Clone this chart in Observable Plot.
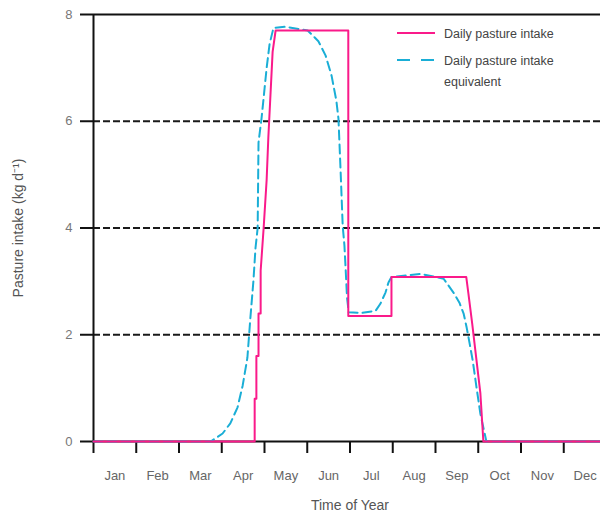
<!DOCTYPE html>
<html>
<head>
<meta charset="utf-8">
<script src="https://cdn.jsdelivr.net/npm/d3@7"></script>
<script src="https://cdn.jsdelivr.net/npm/@observablehq/plot@0.6"></script>
<style>
  html, body { margin: 0; padding: 0; background: #fff; }
  #wrap { position: relative; width: 600px; height: 519px; }
  #legend { position: absolute; left: 392px; top: 18px; }
</style>
</head>
<body>
<div id="wrap"></div>
<script>
const months = ["Jan","Feb","Mar","Apr","May","Jun","Jul","Aug","Sep","Oct","Nov","Dec"];
const yTicks = [0, 2, 4, 6, 8];
const gridValues = [2, 4, 6];
const monthBoundaries = [0,1,2,3,4,5,6,7,8,9,10,11,12];

// Daily pasture intake (month position, kg/d)
const intakeMonth = [0, 3.77, 3.77, 3.81, 3.81, 3.86, 3.86, 3.91, 3.91, 3.98, 4.05, 4.09, 4.14, 4.19, 4.26, 5.96, 5.96, 6.97, 6.97, 8.72, 8.77, 8.86, 8.94, 9.05, 9.12, 12];
const intakeValue = [0, 0, 0.8, 0.8, 1.6, 1.6, 2.4, 2.4, 3.2, 4.0, 4.9, 5.7, 6.5, 7.3, 7.7, 7.7, 2.35, 2.35, 3.08, 3.08, 2.77, 2.2, 1.65, 0.9, 0, 0];

// Daily pasture intake equivalent
const equivMonth = [0, 2.74, 3.02, 3.2, 3.37, 3.49, 3.6, 3.67, 3.74, 3.79, 3.84, 3.86, 3.93, 3.98, 4.05, 4.12, 4.21, 4.49, 5.01, 5.26, 5.43, 5.57, 5.68, 5.73, 5.78, 5.83, 5.87, 5.9, 5.93, 5.97, 6.29, 6.6, 6.71, 6.83, 6.9, 6.97, 7.65, 8.19, 8.42, 8.56, 8.66, 8.73, 8.8, 8.87, 8.96, 9.05, 9.15, 9.19, 12];
const equivValue = [0, 0, 0.15, 0.34, 0.64, 1.05, 1.57, 2.32, 3.0, 3.63, 4.0, 5.6, 6.05, 6.44, 7.0, 7.45, 7.75, 7.77, 7.7, 7.5, 7.23, 6.85, 6.39, 6.05, 5.07, 4.03, 3.67, 3.2, 2.7, 2.42, 2.41, 2.45, 2.58, 2.79, 2.98, 3.08, 3.14, 3.05, 2.79, 2.6, 2.39, 2.13, 1.83, 1.52, 1.01, 0.52, 0.15, 0, 0];

const pink = "#fa1a8a";
const cyan = "#1aaed6";

const intake = intakeMonth.map((m, i) => ({m, v: intakeValue[i]}));
const equiv = equivMonth.map((m, i) => ({m, v: equivValue[i]}));

const font = "'Liberation Sans', Arial, sans-serif";

const chart = Plot.plot({
  width: 600,
  height: 519,
  marginTop: 14,
  marginBottom: 78,
  marginLeft: 93,
  marginRight: 0,
  x: {domain: [0, 12], range: [93, 606]},
  y: {domain: [0, 8], range: [441, 14]},
  style: {fontFamily: font, fontSize: "13px", color: "#666", background: "white", overflow: "visible"},
  marks: [
    Plot.ruleY(gridValues, {stroke: "#1a1a1a", strokeWidth: 1.8, strokeDasharray: "7,3"}),
    Plot.ruleY([8], {stroke: "#111", strokeWidth: 2}),
    Plot.ruleX([0], {stroke: "#111", strokeWidth: 2}),
    Plot.ruleY([0], {stroke: "#111", strokeWidth: 2}),
    Plot.axisY({ticks: yTicks, tickSize: 13, tickPadding: 8, label: null, stroke: "#111", strokeWidth: 2, fill: "#777", fontSize: 13}),
    Plot.axisX({ticks: monthBoundaries, tickSize: 12, tickFormat: () => "", label: null, stroke: "#111", strokeWidth: 2}),
    Plot.text(months, {x: (d, i) => i + 0.5, frameAnchor: "bottom", dy: 38, fill: "#666", fontSize: 13}),
    Plot.text(["Time of Year"], {x: 6, frameAnchor: "bottom", dy: 68, fill: "#555", fontSize: 14}),
    Plot.text(["Pasture intake (kg d\u207B\u00B9)"], {y: 4, frameAnchor: "left", textAnchor: "middle", dx: -75, rotate: -90, fill: "#555", fontSize: 14}),
    Plot.line(equiv, {x: "m", y: "v", stroke: cyan, strokeWidth: 2, strokeDasharray: "9,5"}),
    Plot.line(intake, {x: "m", y: "v", stroke: pink, strokeWidth: 2})
  ]
});

const wrap = document.getElementById("wrap");
wrap.appendChild(chart);

const legend = document.createElement("div");
legend.id = "legend";
legend.innerHTML = `
<svg width="200" height="75" style="font-family:${font}">
  <line x1="5" x2="43" y1="15" y2="15" stroke="${pink}" stroke-width="2"/>
  <text x="52" y="19.5" font-size="12.5" fill="#444">Daily pasture intake</text>
  <line x1="5" x2="43" y1="42" y2="42" stroke="${cyan}" stroke-width="2" stroke-dasharray="13,11"/>
  <text x="52" y="46.5" font-size="12.5" fill="#444">Daily pasture intake</text>
  <text x="52" y="67.5" font-size="12.5" fill="#444">equivalent</text>
</svg>`;
wrap.appendChild(legend);
</script>
</body>
</html>
